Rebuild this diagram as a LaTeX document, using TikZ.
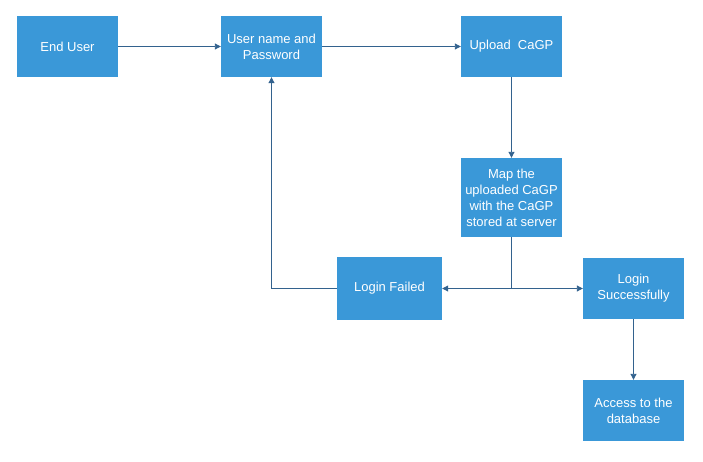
\documentclass[tikz,border=0pt]{standalone}
\usepackage{fontspec}
\setmainfont{Liberation Sans}
\usetikzlibrary{arrows.meta}
\definecolor{boxblue}{HTML}{3A98D8}
\definecolor{linecol}{HTML}{33628E}
\begin{document}
\begin{tikzpicture}[x=1pt,y=-1pt,
  box/.style={fill=boxblue,draw=none,text=white,inner sep=0pt,align=center,
    font=\fontsize{13}{16}\selectfont},
  conn/.style={draw=linecol,line width=0.9pt,-{Triangle[length=6pt,width=6pt]}},
  plain/.style={draw=linecol,line width=0.9pt}]
\useasboundingbox (0,0) rectangle (703,461);
\node[box,minimum width=101pt,minimum height=61pt] (eu) at (67.5,46.5) {End User};
\node[box,minimum width=101pt,minimum height=61pt] (up) at (271.5,46.5) {User name and\\Password};
\node[box,minimum width=101pt,minimum height=61pt] (ul) at (511.5,46.5) {Upload\ \ CaGP};
\node[box,minimum width=101pt,minimum height=79pt] (map) at (511.5,197.5) {Map the\\uploaded CaGP\\with the CaGP\\stored at server};
\node[box,minimum width=105pt,minimum height=63pt] (lf) at (389.5,288.5) {Login Failed};
\node[box,minimum width=101pt,minimum height=61pt] (ls) at (633.5,288.5) {Login\\Successfully};
\node[box,minimum width=101pt,minimum height=61pt] (ac) at (633.5,410.5) {Access to the\\database};
\coordinate (j) at (511.5,288.5);
\coordinate (k) at (271.5,288.5);
\draw[conn] (eu) -- (up);
\draw[conn] (up) -- (ul);
\draw[conn] (ul) -- (map);
\draw[plain] (map) -- (j);
\draw[conn] (j) -- (lf);
\draw[conn] (j) -- (ls);
\draw[conn] (lf.west) -- (k) -- (up.south);
\draw[conn] (ls) -- (ac);
\end{tikzpicture}
\end{document}
